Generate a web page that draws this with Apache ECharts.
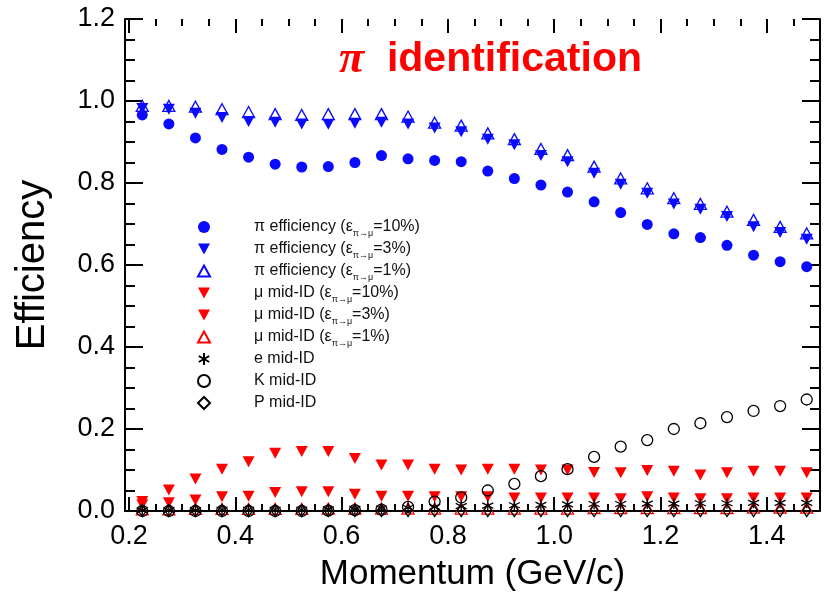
<!DOCTYPE html>
<html>
<head>
<meta charset="utf-8">
<script src="https://cdn.jsdelivr.net/npm/echarts@6/dist/echarts.min.js"></script>
<style>
  html, body { margin: 0; padding: 0; background: #fff; }
  #main { width: 827px; height: 597px; }
</style>
</head>
<body>
<div id="main"></div>
<script>
// momentum bins (GeV/c)
var momentum = [0.225, 0.275, 0.325, 0.375, 0.425, 0.475, 0.525, 0.575, 0.625, 0.675, 0.725, 0.775, 0.825,
                0.875, 0.925, 0.975, 1.025, 1.075, 1.125, 1.175, 1.225, 1.275, 1.325, 1.375, 1.425, 1.475];

var piEff10 = [0.966, 0.944, 0.910, 0.882, 0.863, 0.846, 0.839, 0.840, 0.850, 0.867, 0.859, 0.855, 0.852,
               0.829, 0.811, 0.795, 0.778, 0.754, 0.728, 0.699, 0.676, 0.667, 0.648, 0.624, 0.608, 0.596];
var piEff3  = [0.982, 0.980, 0.970, 0.960, 0.950, 0.948, 0.944, 0.943, 0.946, 0.948, 0.944, 0.934, 0.925,
               0.907, 0.893, 0.867, 0.852, 0.824, 0.797, 0.775, 0.749, 0.736, 0.718, 0.693, 0.679, 0.663];
var piEff1  = [0.988, 0.988, 0.986, 0.980, 0.973, 0.968, 0.966, 0.968, 0.968, 0.968, 0.962, 0.947, 0.940,
               0.921, 0.907, 0.883, 0.868, 0.840, 0.811, 0.787, 0.763, 0.749, 0.730, 0.710, 0.693, 0.677];
var muMid10 = [0.023, 0.051, 0.078, 0.102, 0.120, 0.141, 0.145, 0.145, 0.128, 0.112, 0.112, 0.102, 0.100,
               0.102, 0.102, 0.100, 0.100, 0.094, 0.093, 0.099, 0.097, 0.088, 0.093, 0.097, 0.097, 0.093];
var muMid3  = [0.015, 0.020, 0.027, 0.035, 0.036, 0.045, 0.047, 0.047, 0.041, 0.036, 0.036, 0.035, 0.035,
               0.035, 0.032, 0.032, 0.032, 0.032, 0.030, 0.035, 0.032, 0.030, 0.030, 0.032, 0.032, 0.032];
var muMid1  = [0.004, 0.004, 0.005, 0.005, 0.005, 0.005, 0.005, 0.006, 0.006, 0.006, 0.006, 0.006, 0.006,
               0.006, 0.006, 0.006, 0.006, 0.007, 0.007, 0.007, 0.007, 0.007, 0.007, 0.008, 0.008, 0.008];
var eMid    = [0.002, 0.002, 0.002, 0.003, 0.003, 0.003, 0.003, 0.004, 0.005, 0.006, 0.008, 0.010, 0.012,
               0.013, 0.014, 0.015, 0.016, 0.017, 0.017, 0.018, 0.018, 0.019, 0.019, 0.020, 0.020, 0.020];
var kMid    = [0.000, 0.000, 0.000, 0.000, 0.000, 0.000, 0.000, 0.001, 0.002, 0.003, 0.010, 0.023, 0.033,
               0.050, 0.066, 0.085, 0.102, 0.132, 0.157, 0.173, 0.200, 0.214, 0.229, 0.244, 0.256, 0.272];
var pMid    = [0.001, 0.001, 0.001, 0.001, 0.001, 0.001, 0.001, 0.001, 0.001, 0.001, 0.001, 0.001, 0.001,
               0.001, 0.001, 0.001, 0.001, 0.001, 0.001, 0.001, 0.001, 0.001, 0.001, 0.001, 0.001, 0.001];

var xMajor = [0.2, 0.4, 0.6, 0.8, 1.0, 1.2, 1.4];
var xMinor = [0.25, 0.3, 0.35, 0.45, 0.5, 0.55, 0.65, 0.7, 0.75, 0.85, 0.9, 0.95,
              1.05, 1.1, 1.15, 1.25, 1.3, 1.35, 1.45];

var BLUE = '#0a0aff', RED = '#ff0000', BLACK = '#000';
var FONT = "'Liberation Sans', Arial, sans-serif";
var asterisk = 'path://M0,-5L0,5M-4.33,-2.5L4.33,2.5M-4.33,2.5L4.33,-2.5';
var downTri = 'path://M0,0L10,0L5,9Z';
var upTri = 'path://M5,0L10,9L0,9Z';

function pairs(ys) {
  return momentum.map(function (x, i) { return [x, ys[i]]; });
}

function xAx(pos, vals, len, labels) {
  return {
    type: 'value', position: pos, min: 0.1925, max: 1.5,
    axisLine: { show: labels, lineStyle: { color: BLACK, width: 2 } },
    splitLine: { show: false },
    axisTick: { show: true, inside: true, length: len, customValues: vals, lineStyle: { color: BLACK, width: 2 } },
    axisLabel: labels ? {
      show: true, customValues: xMajor, margin: 12, color: BLACK, fontSize: 27, fontFamily: FONT,
      formatter: function (v) { return v.toFixed(1); }
    } : { show: false }
  };
}

function yAx(pos, labels) {
  return {
    type: 'value', position: pos, min: 0, max: 1.2, interval: 0.2,
    axisLine: { show: true, lineStyle: { color: BLACK, width: 2 } },
    splitLine: { show: false },
    axisTick: { show: true, inside: true, length: 18, lineStyle: { color: BLACK, width: 2 } },
    minorTick: { show: true, splitNumber: 4, length: 10, lineStyle: { color: BLACK, width: 2 } },
    axisLabel: labels ? {
      show: true, margin: 10, color: BLACK, fontSize: 27, fontFamily: FONT,
      formatter: function (v) { return v.toFixed(1); }
    } : { show: false }
  };
}

var chart = echarts.init(document.getElementById('main'));

var xMain = xAx('bottom', xMajor, 14, true);
xMain.name = 'Momentum (GeV/c)';
xMain.nameLocation = 'middle';
xMain.nameGap = 46;
xMain.nameTextStyle = { color: BLACK, fontSize: 35, fontFamily: FONT };
var yMain = yAx('left', true);
yMain.name = 'Efficiency';
yMain.nameLocation = 'middle';
yMain.nameGap = 72;
yMain.nameTextStyle = { color: BLACK, fontSize: 40, fontFamily: FONT };

function sc(name, ys, symbol, size, fill, stroke) {
  return {
    name: name, type: 'scatter', data: pairs(ys), symbol: symbol, symbolSize: size,
    itemStyle: fill ? { color: fill, opacity: 1 }
                    : { color: 'rgba(0,0,0,0)', borderColor: stroke, borderWidth: 1.3, opacity: 1 }
  };
}

var option = {
  backgroundColor: '#fff',
  animation: false,
  grid: { left: 125, right: 7, top: 19, bottom: 86, outerBoundsMode: 'none' },
  graphic: [{
    type: 'text', left: 339, top: 37,
    style: {
      text: '{p|π}{b|  identification}',
      rich: {
        p: { fill: RED, fontSize: 46, fontStyle: 'italic', fontWeight: 'bold', fontFamily: "'Liberation Serif', serif" },
        b: { fill: RED, fontSize: 41, fontWeight: 'bold', fontFamily: FONT }
      }
    }
  }],
  legend: {
    orient: 'vertical', left: 197, top: 219, padding: 0,
    itemWidth: 12, itemHeight: 12, itemGap: 3,
    formatter: function (name) {
      var k = name.indexOf('ε');
      if (k < 0) return '{u|' + name + '}';
      return '{t|' + name.slice(0, k + 1) + '}{s|π→μ}{t|' + name.slice(k + 1) + '}';
    },
    textStyle: {
      color: '#111', fontSize: 16, fontFamily: FONT, padding: [0, 0, 0, 39],
      rich: {
        t: { fontSize: 16, lineHeight: 16, verticalAlign: 'top', fontFamily: FONT, color: '#111' },
        u: { fontSize: 16, lineHeight: 16, verticalAlign: 'top', padding: [0, 0, 3, 0], fontFamily: FONT, color: '#111' },
        s: { fontSize: 9, lineHeight: 9, verticalAlign: 'top', padding: [10, 0, 0, 0], fontFamily: FONT, color: '#111' }
      }
    }
  },
  xAxis: [
    xMain,
    xAx('bottom', xMinor, 7, false),
    xAx('top', xMajor, 14, false),
    xAx('top', xMinor, 7, false)
  ],
  yAxis: [yMain, yAx('right', false)],
  series: [
    sc('π efficiency (ε=10%)', piEff10, 'circle', 11, BLUE),
    sc('π efficiency (ε=3%)', piEff3, downTri, [12, 11], BLUE),
    sc('π efficiency (ε=1%)', piEff1, upTri, [12, 11], null, BLUE),
    sc('μ mid-ID (ε=10%)', muMid10, downTri, [12, 11], RED),
    sc('μ mid-ID (ε=3%)', muMid3, downTri, [12, 11], RED),
    sc('μ mid-ID (ε=1%)', muMid1, upTri, [12, 11], null, RED),
    sc('e mid-ID', eMid, asterisk, 11, null, BLACK),
    sc('K mid-ID', kMid, 'circle', 11, null, BLACK),
    sc('P mid-ID', pMid, 'diamond', [8, 12], null, BLACK)
  ]
};

chart.setOption(option);
</script>
</body>
</html>
